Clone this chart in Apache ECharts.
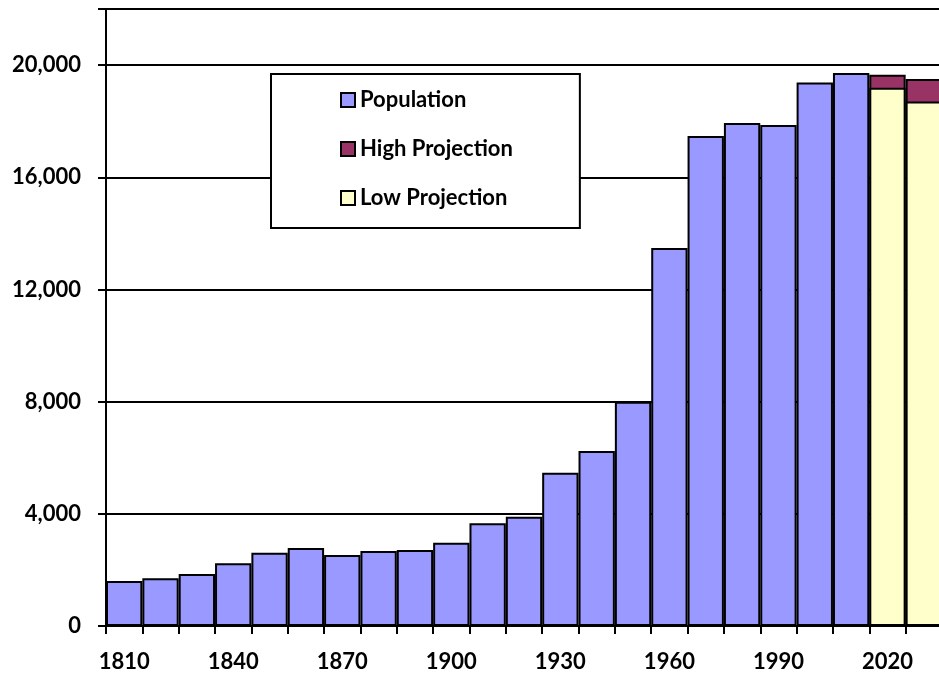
<!DOCTYPE html>
<html>
<head>
<meta charset="utf-8">
<script src="https://cdn.jsdelivr.net/npm/echarts@6/dist/echarts.min.js"></script>
<style>html,body{margin:0;padding:0;background:#fff}#c{width:939px;height:677px}</style>
</head>
<body>
<div id="c"></div>
<script>
const years = ['1810','1820','1830','1840','1850','1860','1870','1880','1890','1900','1910','1920','1930','1940','1950','1960','1970','1980','1990','2000','2010','2020','2030'];
const population = [1604,1700,1854,2235,2613,2781,2531,2674,2709,2970,3661,3897,5466,6239,8000,13476,17469,17932,17861,19383,19715,null,null];
const highProjection = [null,null,null,null,null,null,null,null,null,null,null,null,null,null,null,null,null,null,null,null,null,19658,19500];
const lowProjection = [null,null,null,null,null,null,null,null,null,null,null,null,null,null,null,null,null,null,null,null,null,19194,18706];

const font = 'Lato, "Open Sans", "DejaVu Sans", sans-serif';
const chart = echarts.init(document.getElementById('c'));
const barBorder = {borderColor:'#000', borderWidth:2};
chart.setOption({
  animation:false,
  backgroundColor:'#fff',
  grid:{left:106, width:836, top:9, bottom:51, containLabel:false, outerBoundsMode:'none'},
  legend:{
    left:271, top:74, orient:'vertical',
    backgroundColor:'#fff', borderColor:'#000', borderWidth:2,
    padding:[15,67,19,69],
    itemWidth:14, itemHeight:14, itemGap:27,
    icon:'rect',
    textStyle:{fontFamily:font, fontWeight:'bold', fontSize:22, color:'#000'},
    data:['Population','High Projection','Low Projection']
  },
  xAxis:{
    type:'category', data:years, boundaryGap:true,
    axisLine:{lineStyle:{color:'#000', width:2}},
    axisTick:{show:true, interval:0, length:8, lineStyle:{color:'#000', width:2}},
    axisLabel:{interval:2, margin:25, fontFamily:font, fontWeight:'bold', fontSize:22, color:'#000'},
    splitLine:{show:false}
  },
  yAxis:{
    type:'value', min:0, max:22000, interval:4000,
    axisLine:{show:true, lineStyle:{color:'#000', width:2}},
    axisTick:{show:true, length:8, lineStyle:{color:'#000', width:2}},
    axisLabel:{margin:25, fontFamily:font, fontWeight:'bold', fontSize:22, color:'#000',
      formatter:v => v === 22000 ? '' : v.toLocaleString('en-US')},
    splitLine:{show:true, lineStyle:{color:'#000', width:2}}
  },
  series:[
    {name:'Population', type:'bar', data:population, barCategoryGap:0, barGap:'-100%',
     itemStyle:Object.assign({color:'#9999FF'}, barBorder)},
    {name:'High Projection', type:'bar', data:highProjection, barCategoryGap:0, barGap:'-100%',
     itemStyle:Object.assign({color:'#993366'}, barBorder)},
    {name:'Low Projection', type:'bar', data:lowProjection, barCategoryGap:0, barGap:'-100%',
     itemStyle:Object.assign({color:'#FFFFCC'}, barBorder)}
  ]
});
</script>
</body>
</html>
